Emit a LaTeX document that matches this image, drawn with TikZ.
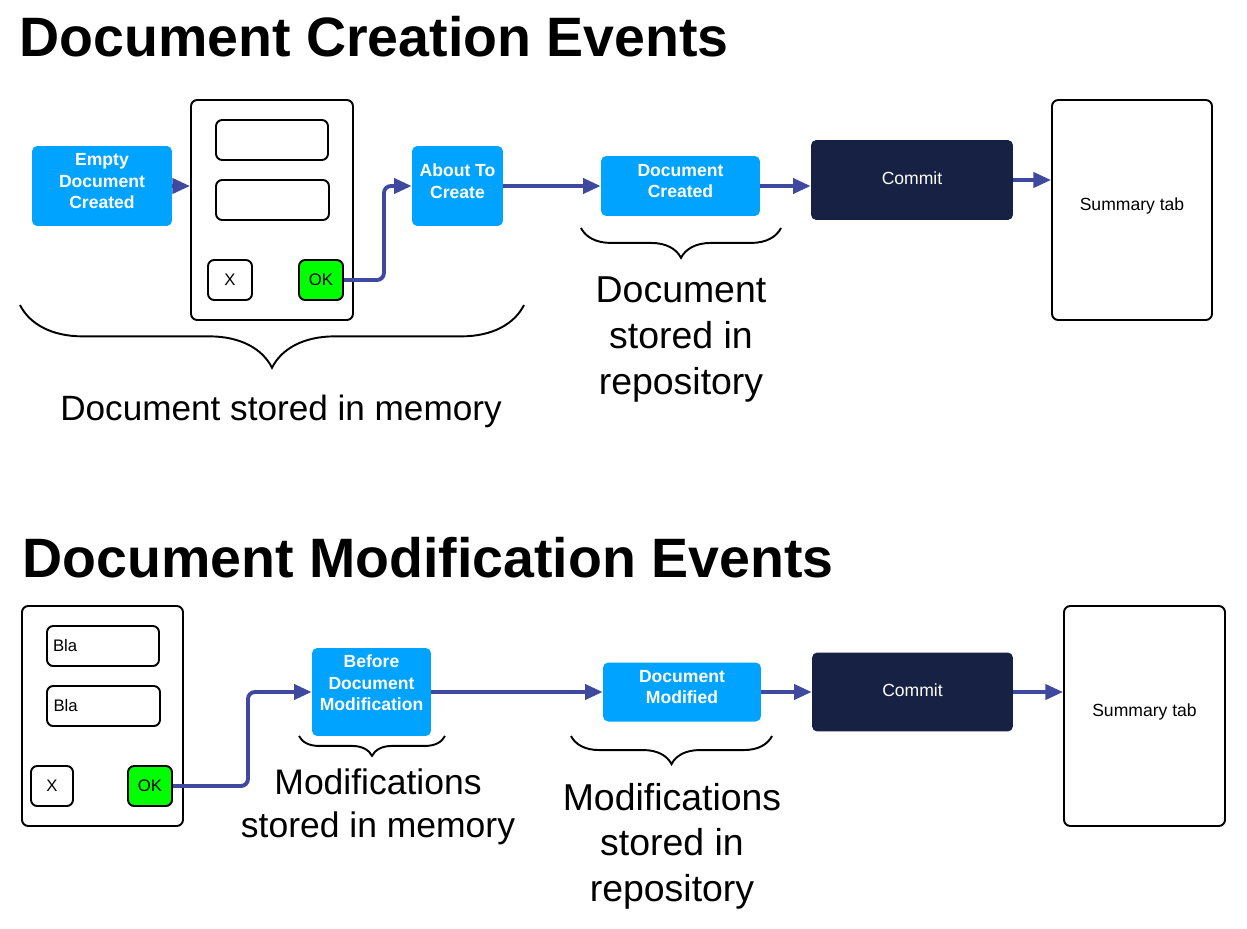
\documentclass[tikz,border=0pt]{standalone}
\usepackage{fontspec}
\setmainfont{Liberation Sans}
\usetikzlibrary{arrows.meta,decorations.pathreplacing}
\definecolor{evtblue}{RGB}{0,163,255}
\definecolor{navy}{RGB}{22,33,67}
\definecolor{flowblue}{RGB}{63,74,158}
\definecolor{okgreen}{RGB}{0,255,0}
\tikzset{
 sz/.style 2 args={minimum width=#1cm,minimum height=#2cm},
 evt/.style={shape=rectangle,rounded corners=3pt,fill=evtblue,text=white,inner sep=0pt,align=center,text depth=5.7pt,font=\fontsize{10}{12.2}\selectfont\bfseries},
 cmt/.style={shape=rectangle,rounded corners=3pt,fill=navy,text=white,inner sep=0pt,text depth=2.3pt,font=\fontsize{10}{12}\selectfont},
 panel/.style={shape=rectangle,rounded corners=3.5pt,draw=black,line width=1.1pt,fill=white,inner sep=0pt,font=\fontsize{10}{12}\selectfont},
 tab/.style={panel,text depth=6.6pt},
 btn/.style={panel,font=\fontsize{9.5}{11}\selectfont},
 txtfield/.style={btn,text width=2.0cm,inner xsep=0.12cm,align=left},
 flow/.style={draw=flowblue,line width=2.2pt,rounded corners=4pt,-{Triangle[length=10pt,width=8.5pt]}},
 brc/.style={decorate,decoration={brace,mirror,amplitude=#1},line width=1.1pt},
 big/.style 2 args={align=center,font=\fontsize{#1}{#2}\selectfont},
 title/.style={anchor=base west,inner sep=0pt,font=\fontsize{31.6}{36}\selectfont\bfseries}
}
\begin{document}
\begin{tikzpicture}[x=0.02cm,y=-0.02cm]
 \useasboundingbox (0,0) rectangle (1247,929);
 % creation
 \node (title 1) at (19,57) [title] {Document Creation Events};
 \node (empty) at (102,186) [evt,sz={2.8}{1.6}] {Empty\\Document\\Created};
 \node (form 1) at (272,210) [panel,sz={3.24}{4.4}] {};
 \node (field 1a) at (272,140) [btn,sz={2.24}{0.8}] {};
 \node (field 1b) at (272.5,200) [btn,sz={2.26}{0.8}] {};
 \node (x 1) at (230,280) [btn,sz={0.88}{0.8}] {X};
 \node (ok 1) at (321,280) [btn,fill=okgreen,sz={0.88}{0.8}] {OK};
 \node (about) at (457.5,186) [evt,sz={1.82}{1.6}] {About To\\Create};
 \node (created) at (680.5,186) [evt,sz={3.18}{1.2}] {Document\\Created};
 \node (commit 1) at (912,180) [cmt,sz={4.04}{1.6}] {Commit};
 \node (summary 1) at (1132,210) [tab,sz={3.2}{4.4}] {Summary tab};
 \draw[flow] (empty.east) -- (form 1.west |- empty.east);
 \draw[flow] (ok 1.east) -- ++(40,0) |- (about.west);
 \draw[flow] (about.east) -- (created.west);
 \draw[flow] (created.east) -- (commit 1.west |- created.east);
 \draw[flow] (commit 1.east) -- (summary 1.west |- commit 1.east);
 \coordinate (mem 1l) at (20,305);
 \coordinate (mem 1r) at (524,305);
 \coordinate (repo 1l) at (581,228);
 \coordinate (repo 1r) at (781,228);
 \draw[brc=35.7pt] (mem 1l) -- (mem 1r);
 \draw[brc=17pt] (repo 1l) -- (repo 1r);
 \node (mem 1) at (281,411) [big={20}{26}] {Document stored in memory};
 \node (repo 1) at (681,339.5) [big={21.3}{26}] {Document\\stored in\\repository};
 % modification
 \node (title 2) at (22,577) [title] {Document Modification Events};
 \node (form 2) at (102.5,716) [panel,sz={3.22}{4.4}] {};
 \node (field 2a) at (103,646) [txtfield,sz={2.24}{0.8}] {Bla};
 \node (field 2b) at (103.5,706) [txtfield,sz={2.26}{0.8}] {Bla};
 \node (x 2) at (52,786) [btn,sz={0.84}{0.8}] {X};
 \node (ok 2) at (150,786) [btn,fill=okgreen,sz={0.88}{0.8}] {OK};
 \node (before) at (371.5,692) [evt,text depth=10.2pt,sz={2.38}{1.76}] {Before\\Document\\Modification};
 \node (modified) at (682,692) [evt,sz={3.16}{1.18}] {Document\\Modified};
 \node (commit 2) at (912.5,692) [cmt,sz={4.02}{1.58}] {Commit};
 \node (summary 2) at (1144.5,716) [tab,sz={3.22}{4.4}] {Summary tab};
 \draw[flow] (ok 2.east) -- ++(75,0) |- (before.west);
 \draw[flow] (before.east) -- (modified.west);
 \draw[flow] (modified.east) -- (commit 2.west);
 \draw[flow] (commit 2.east) -- (summary 2.west |- commit 2.east);
 \coordinate (mem 2l) at (299,736);
 \coordinate (mem 2r) at (445,736);
 \coordinate (repo 2l) at (571,736);
 \coordinate (repo 2r) at (772,736);
 \draw[brc=11.3pt] (mem 2l) -- (mem 2r);
 \draw[brc=16pt] (repo 2l) -- (repo 2r);
 \node (mem 2) at (378,807) [big={20.2}{24.4}] {Modifications\\stored in memory};
 \node (repo 2) at (672,846) [big={21.3}{26}] {Modifications\\stored in\\repository};
\end{tikzpicture}
\end{document}
